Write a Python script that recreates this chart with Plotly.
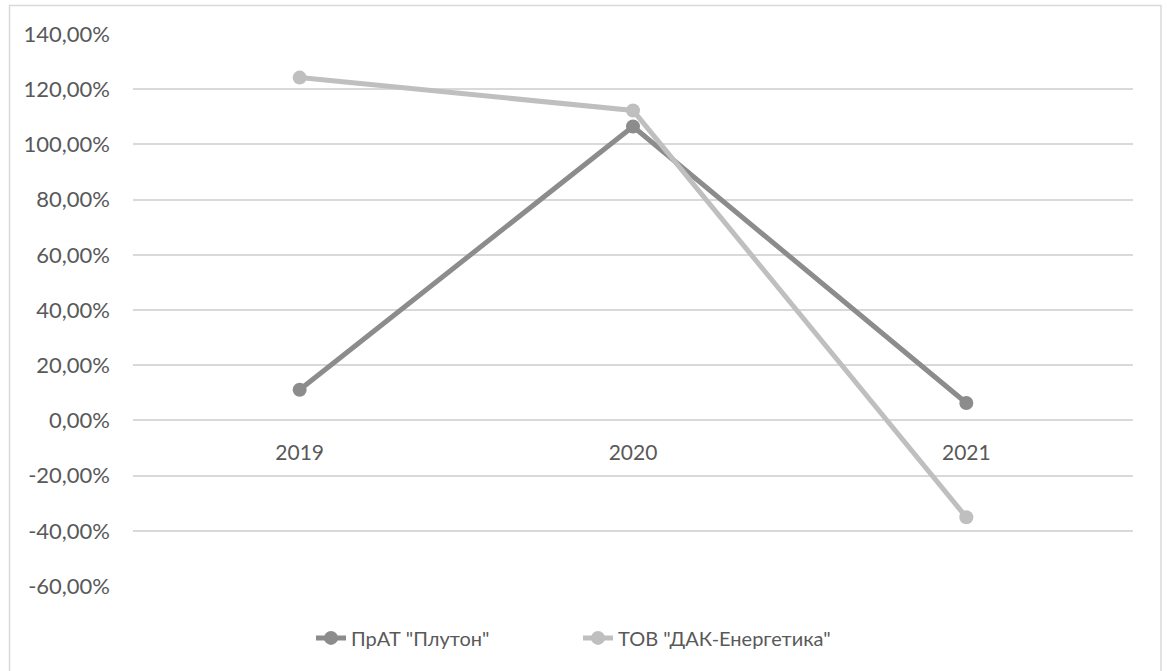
import plotly.graph_objects as go

years = ["2019", "2020", "2021"]
plyuton = [0.111, 1.065, 0.063]
dak = [1.242, 1.123, -0.351]
names = ['ПрАТ "Плутон"', 'ТОВ "ДАК-Енергетика"']
colors = ["#8c8c8c", "#bfbfbf"]
y_tick_vals = [-0.6, -0.4, -0.2, 0.0, 0.2, 0.4, 0.6, 0.8, 1.0, 1.2, 1.4]
y_tick_text = ["-60,00%", "-40,00%", "-20,00%", "0,00%", "20,00%", "40,00%",
               "60,00%", "80,00%", "100,00%", "120,00%", "140,00%"]

fig = go.Figure()
for vals, name, col in zip([plyuton, dak], names, colors):
    fig.add_trace(go.Scatter(
        x=years, y=vals, name=name, mode="lines+markers",
        line=dict(color=col, width=5),
        marker=dict(color=col, size=14),
    ))

fam = "Lato, Noto Sans, sans-serif"
txt = "#595959"

fig.update_layout(
    width=1167, height=671,
    margin=dict(l=133, r=34, t=34, b=85),
    paper_bgcolor="white", plot_bgcolor="white",
    font=dict(family=fam, size=20, color=txt),
    showlegend=True,
    legend=dict(orientation="h", x=0.445, xanchor="center", y=-0.094, yanchor="middle",
                font=dict(family=fam, size=20, color=txt), entrywidth=222),
    xaxis=dict(type="category", range=[-0.5, 2.5], showgrid=False, showline=False,
               zeroline=False, anchor="free", position=0.3, ticks="",
               ticklabelstandoff=18, tickfont=dict(family=fam, size=21, color=txt)),
    yaxis=dict(range=[-0.6, 1.4], tickvals=y_tick_vals, ticktext=y_tick_text,
               showgrid=True, gridcolor="#d9d9d9", gridwidth=1.5,
               zeroline=True, zerolinecolor="#d9d9d9", zerolinewidth=1.5,
               showline=False, ticks="", ticklabelstandoff=22,
               tickfont=dict(family=fam, size=22, color=txt)),
    shapes=[dict(type="rect", xref="paper", yref="paper",
                 x0=-0.1235, x1=1.028, y0=-0.2, y1=1.0516,
                 line=dict(color="#d9d9d9", width=1.5), fillcolor="rgba(0,0,0,0)",
                 layer="below")],
)

fig.write_html("out.html")
